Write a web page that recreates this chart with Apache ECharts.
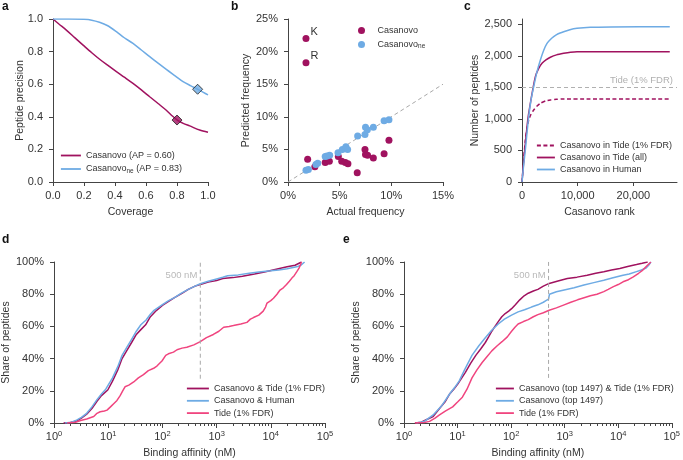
<!DOCTYPE html>
<html><head><meta charset="utf-8">
<script src="https://cdn.jsdelivr.net/npm/echarts@6/dist/echarts.min.js"></script>
<style>html,body{margin:0;padding:0;background:#fff}#c{width:683px;height:460px}</style>
</head><body><div id="c"></div><script>
const DARK = '#a0125f', BLUE = '#6eabe4', PINK = '#f0457f', GRAY = '#a8a8a8', AX = '#444', TXT = '#333';
const FONT = 'Liberation Sans, Arial, sans-serif';

// ---- Panel a: precision vs coverage
const aCasanovo = [[0,1],[0.04,0.968],[0.086,0.932],[0.14,0.886],[0.194,0.84],[0.25,0.793],[0.301,0.753],[0.35,0.718],[0.409,0.677],[0.46,0.643],[0.516,0.605],[0.57,0.565],[0.624,0.523],[0.68,0.48],[0.731,0.44],[0.77,0.405],[0.802,0.38],[0.84,0.36],[0.882,0.344],[0.946,0.319],[1,0.305]];
const aNe = [[0,1],[0.1,1],[0.2,0.998],[0.25,0.993],[0.3,0.98],[0.35,0.96],[0.409,0.922],[0.46,0.885],[0.516,0.85],[0.57,0.81],[0.624,0.769],[0.68,0.728],[0.731,0.691],[0.79,0.65],[0.839,0.616],[0.89,0.59],[0.933,0.569],[0.97,0.55],[1,0.534]];
const aMarkCasanovo = [[0.80,0.38]];
const aMarkNe = [[0.933,0.569]];
const aNames = ['Casanovo (AP = 0.60)','Casanovo_ne (AP = 0.83)'];

// ---- Panel b: predicted vs actual amino-acid frequency (%)
const bCasanovo = [[1.74,22.0],[1.74,18.3],[1.9,3.5],[2.6,2.35],[3.6,3.0],[4.0,3.2],[4.87,3.9],[5.2,3.2],[5.55,3.0],[5.8,2.8],[6.7,1.4],[7.45,5.0],[7.5,4.2],[7.7,4.1],[8.26,3.7],[9.3,4.35],[9.77,6.4]];
const bCasanovoLabels = ['K','R'];
const bNe = [[1.74,1.8],[1.97,1.9],[2.7,2.7],[2.87,2.86],[3.6,3.9],[3.77,4.0],[4.03,4.1],[4.84,4.5],[5.26,5.0],[5.6,5.4],[5.77,5.0],[6.74,7.05],[7.45,7.3],[7.5,8.4],[7.68,8.0],[8.26,8.4],[9.3,9.4],[9.77,9.56]];
const bDiag = [[0,0],[15,15]];

// ---- Panel c: number of peptides vs Casanovo rank
const cTideFdr = [[0,0],[300,350],[600,666],[900,850],[1200,983],[1600,1070],[2100,1141],[2700,1205],[3290,1247],[4200,1285],[5090,1300],[6200,1310],[7485,1316],[12000,1316],[26530,1316]];
const cTideAll = [[0,0],[400,420],[780,772],[1100,1030],[1500,1247],[1900,1450],[2400,1670],[3000,1800],[3593,1881],[4300,1935],[5090,1977],[6200,2015],[7485,2040],[8700,2058],[9880,2066],[26530,2066]];
const cHuman = [[0,0],[300,270],[600,507],[900,780],[1200,1036],[1600,1290],[2100,1512],[2700,1750],[3300,1934],[3900,2090],[4490,2199],[5100,2260],[5690,2304],[6500,2350],[7485,2383],[8600,2415],[9880,2436],[12275,2452],[16000,2458],[26530,2463]];
const cTideLine = 1497;
const cTideLabel = 'Tide (1% FDR)';

// ---- Panel d: cumulative share vs binding affinity (nM, %)
const dBoth = [[1.5,0],[2.0,0.3],[2.6,1.2],[3.2,3],[4,5.5],[5,9],[6.2,13.5],[7.5,17],[9.8,20.5],[12,26],[15,33],[18,40],[22,45],[27,50],[33,55],[40,58],[49,61],[60,66],[78,70],[100,73],[130,75.5],[170,78],[229,80.5],[300,83],[400,85],[500,86],[700,87.5],[1000,88.5],[1300,89.8],[2000,90.3],[3000,91.2],[5000,92.5],[8000,94],[12600,95.5],[20000,97],[28000,98],[37000,100]];
const dHuman = [[1.6,0],[2.1,0.5],[2.6,1.8],[3.2,3.5],[4,6],[5,10],[6.2,14.5],[7.5,18],[9,21],[12,28],[15,35],[18,42],[22,47],[27,52],[33,57],[40,61],[50,64],[60,67.5],[70,70],[100,73.5],[130,76],[170,78],[220,80.5],[300,83],[400,85],[500,86.5],[700,88],[1000,89.5],[1300,90.5],[1600,91.5],[2500,92],[4000,93],[6000,93.8],[10000,94.5],[14000,95],[20000,95.8],[30000,97],[36000,98],[42000,100]];
const dTide = [[1.74,0],[2.5,0.5],[3.1,1.5],[4,2.5],[5.4,4],[6.2,6],[7.1,7],[8.5,7.5],[9.5,8],[11,10],[12.6,12],[14.5,14],[16.6,17],[18.5,20],[20.4,22.5],[24,23.5],[29.5,25.5],[36,28],[44.7,30],[55,32.5],[69,34],[80,35.5],[98,38.5],[115,42],[129,43],[160,44],[186,45.5],[230,46.5],[282,47],[380,48.5],[500,50.5],[650,53],[871,55],[1100,57],[1350,59.5],[1700,60],[2040,60.5],[2800,61.5],[3630,62.5],[4200,64.5],[4790,65.5],[6000,67],[7240,69.5],[8000,72],[8510,74.5],[10000,76],[11200,77.5],[13000,80],[14800,82.6],[17000,84],[19500,86],[22000,88],[24500,90],[27000,91.5],[30200,94],[33000,96],[37000,100]];

// ---- Panel e
const eBoth = [[1.6,0],[2.1,0.5],[2.6,2],[3.5,4],[4.6,9],[5.8,13],[7.1,18],[8.5,21],[10,24],[12,28],[14,31.5],[17.5,37],[21.9,42],[27,46],[33,50],[38,53.5],[43.6,57],[50,60],[57.5,63],[67,66],[77.6,68],[90,69.5],[102,71],[120,73.5],[145,76.5],[175,79],[209,80.6],[260,82],[316,83],[400,85],[513,86.7],[750,88.2],[1120,89.8],[1700,90.6],[2630,91.8],[3800,93],[5370,94],[7500,95],[10700,96],[15000,97.2],[21900,98.4],[28000,99.2],[35500,100]];
const eTop = [[1.7,0],[2.4,1],[3.5,5],[5,10.5],[7.1,18],[8.8,22],[10.7,26],[13.5,33],[18.6,42],[25,48],[33,53],[43,57.5],[57.5,61.5],[75,64.5],[102,67],[135,69],[178,70.3],[240,72],[316,73.4],[400,75],[447,76],[500,77],[520,80],[700,81.5],[977,82.6],[1500,84],[2290,85.7],[3500,87.2],[5370,88.7],[8000,90.2],[12300,91.8],[16000,92.5],[21900,94],[27000,95],[33100,96.3],[37000,98],[40700,100]];
const eTide = [[1.6,0],[2.4,0.3],[3.0,1],[3.8,3],[4.6,5],[6,7.5],[8.1,10],[10,13],[12.3,16],[15,21],[18.6,28],[23,33],[28.8,37.6],[35,41],[43.6,44.8],[55,48],[67.6,50.5],[85,53.5],[102,57],[118,59.5],[135,61.5],[170,63],[209,64.2],[260,66],[316,67.3],[400,68.5],[513,70],[700,71.5],[977,73.4],[1300,75],[1740,76.5],[2300,77.8],[3020,79],[4000,80],[5370,81.6],[6500,83],[8130,84.7],[10000,86],[12300,87.7],[15500,89],[19100,90.8],[24000,93],[28800,95],[34000,97.5],[40700,100]];

const refLabel = '500 nM';
const refLineD = [[500,27.5],[500,100.5]];
const refLineE = [[500,28],[500,100.5]];
const refLabelPosD = [[500,91.5]];
const refLabelPosE = [[500,91.5]];

const majorLog = [1,10,100,1000,10000,100000];
const minorLog = [];
for (let d = 1; d < 100000; d *= 10) for (let k = 2; k <= 9; k++) minorLog.push(k*d);

const pctTicksC = [0,500,1000,1500,2000,2500];
const rankTicksC = [0,10000,20000];

const axisBase = (o) => Object.assign({
  axisLine: {show: true, onZero: false, lineStyle: {color: AX, width: 1}},
  axisTick: {show: true, length: 4, lineStyle: {color: AX}},
  splitLine: {show: false},
  nameLocation: 'middle',
  nameTextStyle: {color: TXT, fontSize: 10.5, fontFamily: FONT},
}, o);
const lblX = (o) => Object.assign({color: TXT, fontSize: 11, fontFamily: FONT, margin: 8}, o);
const lblY = (o) => Object.assign({color: TXT, fontSize: 11, fontFamily: FONT, margin: 10}, o);

const supRich = {
  b: {fontSize: 11, color: TXT, fontFamily: FONT},
  s: {fontSize: 7.5, color: TXT, fontFamily: FONT, verticalAlign: 'top', padding: [0,0,5,0]}
};
const logFmt = v => '{b|10}{s|' + Math.round(Math.log10(v)) + '}';

const legendRich = {
  t: {fontSize: 9, color: TXT, fontFamily: FONT},
  sub: {fontSize: 6.5, color: TXT, fontFamily: FONT, verticalAlign: 'bottom', padding: [4,0,0,0]}
};
const legendFmt = name => {
  if (name.indexOf('_ne') >= 0) {
    const parts = name.split('_ne');
    return '{t|' + parts[0] + '}{sub|ne}' + (parts[1] ? '{t|' + parts[1] + '}' : '');
  }
  return '{t|' + name + '}';
};
const legendBase = (o) => Object.assign({orient: 'vertical', padding: 0, itemHeight: 10, formatter: legendFmt,
  textStyle: {rich: legendRich}, selectedMode: false, itemStyle: {opacity: 0}, lineStyle: {width: 1.8}}, o);

const chart = echarts.init(document.getElementById('c'), null, {renderer: 'canvas'});
const lineS = (name, data, color, xi, yi, extra) => Object.assign({
  type: 'line', name, data, xAxisIndex: xi, yAxisIndex: yi, symbol: 'none', showSymbol: false,
  lineStyle: {color, width: 1.5}, itemStyle: {color}, emphasis: {disabled: true}
}, extra || {});

const dashedRef = {type: [4,3], color: GRAY, width: 1};

const option = {
  animation: false,
  backgroundColor: '#fff',
  textStyle: {fontFamily: FONT},
  title: [
    {text: 'a', left: 2, top: 1},
    {text: 'b', left: 231, top: 1},
    {text: 'c', left: 464, top: 1},
    {text: 'd', left: 2, top: 234},
    {text: 'e', left: 343, top: 234}
  ].map(t => Object.assign(t, {padding: 0, textStyle: {fontSize: 12, fontWeight: 'bold', color: '#111', fontFamily: FONT}})),
  grid: [
    {left: 53, top: 19, width: 155, height: 163},
    {left: 288, top: 19, width: 155, height: 163},
    {left: 522, top: 19, width: 155, height: 163},
    {left: 54, top: 262, width: 271, height: 163},
    {left: 404, top: 262, width: 272, height: 163}
  ],
  xAxis: [
    axisBase({gridIndex: 0, type: 'value', min: 0, max: 1, interval: 0.2, name: 'Coverage', nameGap: 25,
      axisLabel: lblX({formatter: v => v.toFixed(1)})}),
    axisBase({gridIndex: 1, type: 'value', min: 0, max: 15, interval: 5, name: 'Actual frequency', nameGap: 25,
      axisLabel: lblX({formatter: v => v + '%'})}),
    axisBase({gridIndex: 2, type: 'value', min: 0, max: 27830, name: 'Casanovo rank', nameGap: 25,
      axisTick: {show: true, length: 4, lineStyle: {color: AX}, customValues: rankTicksC},
      axisLabel: lblX({customValues: rankTicksC, formatter: v => v.toLocaleString('en-US')})}),
    axisBase({gridIndex: 3, type: 'log', logBase: 10, min: 1, max: 100000, name: 'Binding affinity (nM)', nameGap: 25,
      axisTick: {show: true, length: 5, lineStyle: {color: AX}, customValues: majorLog},
      axisLabel: lblX({customValues: majorLog, formatter: logFmt, rich: supRich, margin: 7})}),
    {gridIndex: 3, type: 'log', logBase: 10, min: 1, max: 100000, position: 'bottom',
      axisLine: {show: false}, axisLabel: {show: false}, splitLine: {show: false},
      axisTick: {show: true, length: 3, lineStyle: {color: AX}, customValues: minorLog}},
    axisBase({gridIndex: 4, type: 'log', logBase: 10, min: 1, max: 100000, name: 'Binding affinity (nM)', nameGap: 25,
      axisTick: {show: true, length: 5, lineStyle: {color: AX}, customValues: majorLog},
      axisLabel: lblX({customValues: majorLog, formatter: logFmt, rich: supRich, margin: 7})}),
    {gridIndex: 4, type: 'log', logBase: 10, min: 1, max: 100000, position: 'bottom',
      axisLine: {show: false}, axisLabel: {show: false}, splitLine: {show: false},
      axisTick: {show: true, length: 3, lineStyle: {color: AX}, customValues: minorLog}}
  ],
  yAxis: [
    axisBase({gridIndex: 0, type: 'value', min: 0, max: 1, interval: 0.2, name: 'Peptide precision', nameGap: 27, nameMoveOverlap: false,
      axisLabel: lblY({formatter: v => v.toFixed(1)})}),
    axisBase({gridIndex: 1, type: 'value', min: 0, max: 25, interval: 5, name: 'Predicted frequency', nameGap: 33,
      axisLabel: lblY({formatter: v => v + '%'})}),
    axisBase({gridIndex: 2, type: 'value', min: 0, max: 2584, name: 'Number of peptides', nameGap: 38,
      axisTick: {show: true, length: 4, lineStyle: {color: AX}, customValues: pctTicksC},
      axisLabel: lblY({customValues: pctTicksC, formatter: v => v.toLocaleString('en-US')})}),
    axisBase({gridIndex: 3, type: 'value', min: 0, max: 100, interval: 20, name: 'Share of peptides', nameGap: 36,
      axisLabel: lblY({formatter: v => v + '%'})}),
    axisBase({gridIndex: 4, type: 'value', min: 0, max: 100, interval: 20, name: 'Share of peptides', nameGap: 37,
      axisLabel: lblY({formatter: v => v + '%'})})
  ],
  legend: [
    legendBase({left: 60, top: 151, itemWidth: 20, itemGap: 4.5, data: aNames}),
    legendBase({left: 358, top: 26, itemWidth: 22, itemHeight: 7, itemGap: 5, icon: 'circle', itemStyle: {opacity: 1},
      data: ['Casanovo','Casanovo_ne']}),
    legendBase({left: 536, top: 141, itemWidth: 18, itemGap: 3,
      data: ['Casanovo in Tide (1% FDR)','Casanovo in Tide (all)','Casanovo in Human']}),
    legendBase({left: 186, top: 384, itemWidth: 22, itemGap: 3.3,
      data: ['Casanovo & Tide (1% FDR)','Casanovo & Human','Tide (1% FDR)']}),
    legendBase({left: 495, top: 384, itemWidth: 18, itemGap: 3.3,
      data: ['Casanovo (top 1497) & Tide (1% FDR)','Casanovo (top 1497)','Tide (1% FDR)']})
  ],
  series: [
    // a
    lineS(aNames[0], aCasanovo, DARK, 0, 0, {smooth: 0.3}),
    lineS(aNames[1], aNe, BLUE, 0, 0, {smooth: 0.3}),
    {type: 'scatter', name: 'mark1', xAxisIndex: 0, yAxisIndex: 0, data: aMarkCasanovo, symbol: 'diamond', symbolSize: 10,
      itemStyle: {color: DARK, borderColor: '#222', borderWidth: 1}, z: 5},
    {type: 'scatter', name: 'mark2', xAxisIndex: 0, yAxisIndex: 0, data: aMarkNe, symbol: 'diamond', symbolSize: 10,
      itemStyle: {color: BLUE, borderColor: '#222', borderWidth: 1}, z: 5},
    // b
    {type: 'line', name: 'diag', xAxisIndex: 1, yAxisIndex: 1, data: bDiag, symbol: 'none', lineStyle: dashedRef, z: 1, silent: true},
    {type: 'scatter', name: 'Casanovo', xAxisIndex: 1, yAxisIndex: 1, symbolSize: 7, itemStyle: {color: DARK, opacity: 1},
      data: bCasanovo.map((p, i) => ({value: p, label: bCasanovoLabels[i] ? {show: true, formatter: bCasanovoLabels[i], position: 'right', offset: [-4, -7], color: TXT, fontSize: 11, fontFamily: FONT} : {show: false}}))},
    {type: 'scatter', name: 'Casanovo_ne', xAxisIndex: 1, yAxisIndex: 1, symbolSize: 7, itemStyle: {color: BLUE, opacity: 1}, data: bNe},
    // c
    lineS('Casanovo in Tide (1% FDR)', cTideFdr, DARK, 2, 2, {smooth: 0.2, lineStyle: {color: DARK, width: 1.5, type: [4,2.5]}}),
    lineS('Casanovo in Tide (all)', cTideAll, DARK, 2, 2, {smooth: 0.2}),
    lineS('Casanovo in Human', cHuman, BLUE, 2, 2, {smooth: 0.2,
      markLine: {silent: true, symbol: ['none','none'], lineStyle: {type: [4,3], color: '#b0b0b0', width: 1},
        label: {show: true, position: 'insideEndTop', formatter: cTideLabel, color: '#b0b0b0', fontSize: 9.5, fontFamily: FONT, distance: [4, 2]},
        data: [{yAxis: cTideLine}]}}),
    // d
    lineS('Casanovo & Tide (1% FDR)', dBoth, DARK, 3, 3),
    lineS('Casanovo & Human', dHuman, BLUE, 3, 3),
    lineS('Tide (1% FDR)', dTide, PINK, 3, 3),
    {type: 'line', name: 'refD', xAxisIndex: 3, yAxisIndex: 3, data: refLineD, symbol: 'none', lineStyle: dashedRef, silent: true},
    {type: 'scatter', name: 'refDlabel', xAxisIndex: 3, yAxisIndex: 3, data: refLabelPosD, symbolSize: 0, silent: true,
      label: {show: true, position: 'left', distance: 3, formatter: refLabel, color: GRAY, fontSize: 9.5, fontFamily: FONT}},
    // e
    lineS('Casanovo (top 1497) & Tide (1% FDR)', eBoth, DARK, 5, 4),
    lineS('Casanovo (top 1497)', eTop, BLUE, 5, 4),
    lineS('Tide (1% FDR)', eTide, PINK, 5, 4),
    {type: 'line', name: 'refE', xAxisIndex: 5, yAxisIndex: 4, data: refLineE, symbol: 'none', lineStyle: dashedRef, silent: true},
    {type: 'scatter', name: 'refElabel', xAxisIndex: 5, yAxisIndex: 4, data: refLabelPosE, symbolSize: 0, silent: true,
      label: {show: true, position: 'left', distance: 3, formatter: refLabel, color: GRAY, fontSize: 9.5, fontFamily: FONT}}
  ]
};
chart.setOption(option);
</script></body></html>
